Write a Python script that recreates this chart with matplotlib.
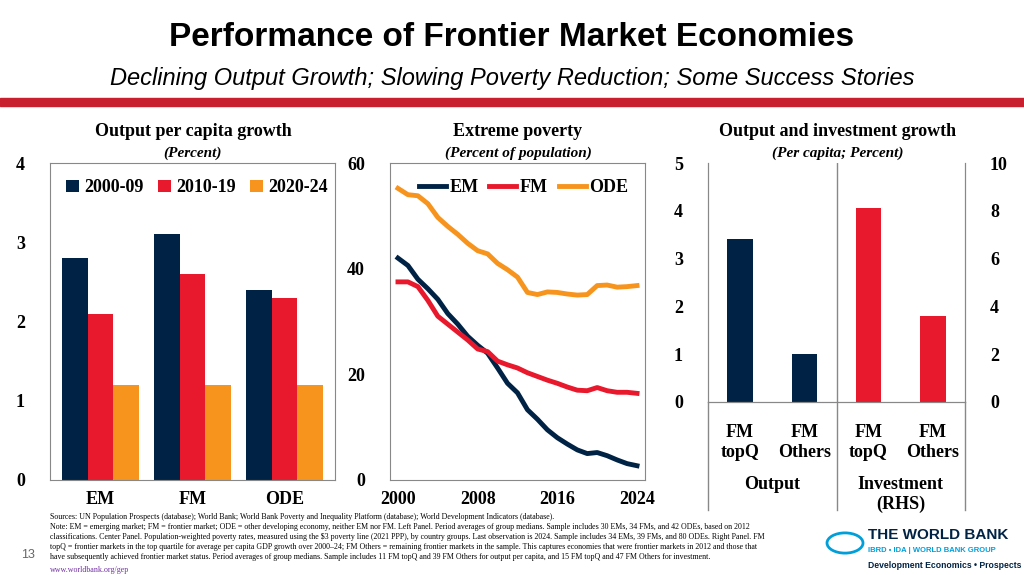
import numpy as np
import matplotlib.pyplot as plt

navy, red, orange = '#002345', '#e8192c', '#f7941d'

groups = ['EM', 'FM', 'ODE']
periods = ['2000-09', '2010-19', '2020-24']
growth = {'2000-09': [2.8, 3.1, 2.4], '2010-19': [2.1, 2.6, 2.3], '2020-24': [1.2, 1.2, 1.2]}

years = list(range(2000, 2025))
em = [42.0, 40.6, 38.0, 36.2, 34.2, 31.5, 29.5, 27.2, 25.5, 24.0, 21.2, 18.3, 16.5, 13.3, 11.5,
      9.5, 8.0, 6.8, 5.7, 5.0, 5.2, 4.6, 3.8, 3.1, 2.7]
fm = [37.5, 37.5, 36.6, 34.0, 31.0, 29.5, 28.0, 26.5, 24.8, 24.3, 22.5, 21.8, 21.2, 20.3, 19.6,
      18.9, 18.3, 17.6, 17.0, 16.9, 17.5, 16.9, 16.6, 16.6, 16.4]
ode = [55.2, 54.0, 53.8, 52.3, 49.7, 48.0, 46.5, 44.8, 43.4, 42.8, 41.0, 39.8, 38.4, 35.5, 35.1,
       35.6, 35.5, 35.2, 35.0, 35.1, 36.8, 36.9, 36.5, 36.6, 36.8]

output = [3.4, 1.0]
invest = [8.1, 3.6]

plt.rcParams['font.family'] = 'Liberation Serif'
fig = plt.figure(figsize=(10.24, 5.75), dpi=100)
W, H = 1024, 575
def box(x0, y0, x1, y1):
    return [x0 / W, 1 - y1 / H, (x1 - x0) / W, (y1 - y0) / H]

fig.text(0.5, 1 - 38 / H, 'Performance of Frontier Market Economies', ha='center', va='center',
         fontsize=24, fontweight='bold', family='Liberation Sans')
fig.text(0.5, 1 - 78 / H, 'Declining Output Growth; Slowing Poverty Reduction; Some Success Stories',
         ha='center', va='center', fontsize=17, style='italic', family='Liberation Sans')
fig.patches.append(plt.Rectangle((0, 1 - 106 / H), 1, 8 / H, transform=fig.transFigure, color='#c8202f'))

def title(x, t, s):
    fig.text(x / W, 1 - 131 / H, t, ha='center', va='center', fontsize=13, fontweight='bold')
    fig.text(x / W, 1 - 153 / H, s, ha='center', va='center', fontsize=11, fontweight='bold', style='italic')

# left
ax = fig.add_axes(box(50, 163, 335, 480))
title(193, 'Output per capita growth', '(Percent)')
x = np.arange(3)
for i, (p, c) in enumerate(zip(periods, [navy, red, orange])):
    ax.bar(x + (i - 1) * 0.28, growth[p], 0.28, color=c, label=p)
ax.set_ylim(0, 4)
ax.set_yticks(range(5))
ax.set_xticks(x, groups)
ax.set_xlim(-0.55, 2.55)
ax.legend(loc='upper left', ncol=3, frameon=False, prop={'weight': 'bold', 'size': 13},
          handlelength=0.7, handletextpad=0.3, columnspacing=0.8, bbox_to_anchor=(0.0, 1.0))

# center
ax2 = fig.add_axes(box(390, 163, 645, 480))
title(518, 'Extreme poverty', '(Percent of population)')
ax2.plot(years, em, color=navy, lw=3.5, label='EM')
ax2.plot(years, fm, color=red, lw=3.5, label='FM')
ax2.plot(years, ode, color=orange, lw=3.5, label='ODE')
ax2.set_ylim(0, 60)
ax2.set_yticks([0, 20, 40, 60])
ax2.set_xlim(1999.2, 2024.8)
ax2.set_xticks([2000, 2008, 2016, 2024])
ax2.legend(loc='upper right', ncol=3, frameon=False, prop={'weight': 'bold', 'size': 13},
           handlelength=1.5, handletextpad=0.2, columnspacing=0.6)

for a in (ax, ax2):
    a.tick_params(length=0, labelsize=13, pad=8)
    for t in a.get_xticklabels() + a.get_yticklabels():
        t.set_fontweight('bold')
    for s in a.spines.values():
        s.set_color('#888888')
ax.tick_params(axis='y', pad=18)
ax2.tick_params(axis='y', pad=18)

# right
ax3 = fig.add_axes(box(708, 163, 965, 402))
title(838, 'Output and investment growth', '(Per capita; Percent)')
ax3.bar([0, 1], output, 0.4, color=navy)
ax3.set_ylim(0, 5)
ax3.set_xlim(-0.5, 3.5)
ax4 = ax3.twinx()
ax4.bar([2, 3], invest, 0.4, color=red)
ax4.set_ylim(0, 10)
ax3.set_xticks([])
ax3.axvline(1.5, color='#888888', lw=1)
for a in (ax3, ax4):
    a.tick_params(length=0, labelsize=13, pad=18)
    for t in a.get_yticklabels():
        t.set_fontweight('bold')
    for s in a.spines.values():
        s.set_color('#888888')
    a.spines['top'].set_visible(False)
labs = ['FM\ntopQ', 'FM\nOthers', 'FM\ntopQ', 'FM\nOthers']
for xi, l in enumerate(labs):
    ax3.text(xi, -0.17, l, transform=ax3.get_xaxis_transform(), ha='center', va='center',
             fontsize=13, fontweight='bold', linespacing=1.2)
ax3.text(0.5, -0.31, 'Output', transform=ax3.get_xaxis_transform(), ha='center', va='top',
         fontsize=13, fontweight='bold')
ax3.text(2.5, -0.31, 'Investment\n(RHS)', transform=ax3.get_xaxis_transform(), ha='center', va='top',
         fontsize=13, fontweight='bold')
for xv in (-0.5, 1.5, 3.5):
    ax3.plot([xv, xv], [0, -0.45], transform=ax3.get_xaxis_transform(), color='#888888', lw=1, clip_on=False)

notes = ("Sources: UN Population Prospects (database); World Bank; World Bank Poverty and Inequality Platform (database); World Development Indicators (database).\n"
         "Note: EM = emerging market; FM = frontier market; ODE = other developing economy, neither EM nor FM. Left Panel. Period averages of group medians. Sample includes 30 EMs, 34 FMs, and 42 ODEs, based on 2012\n"
         "classifications. Center Panel. Population-weighted poverty rates, measured using the $3 poverty line (2021 PPP), by country groups. Last observation is 2024. Sample includes 34 EMs, 39 FMs, and 80 ODEs. Right Panel. FM\n"
         "topQ = frontier markets in the top quartile for average per capita GDP growth over 2000\u201324; FM Others = remaining frontier markets in the sample. This captures economies that were frontier markets in 2012 and those that\n"
         "have subsequently achieved frontier market status. Period averages of group medians. Sample includes 11 FM topQ and 39 FM Others for output per capita, and 15 FM topQ and 47 FM Others for investment.")
fig.text(50 / W, 1 - 513 / H, notes, ha='left', va='top', fontsize=5.7, linespacing=1.35)
fig.text(50 / W, 1 - 574 / H, 'www.worldbank.org/gep', ha='left', va='bottom', fontsize=5.8, color='#7030a0')
fig.text(28 / W, 1 - 555 / H, '13', ha='center', va='center', fontsize=9, color='#666666', family='Liberation Sans')
fig.text(868 / W, 1 - 535 / H, 'THE WORLD BANK', ha='left', va='center', fontsize=11, fontweight='bold',
         color='#002345', family='Liberation Sans')
fig.text(868 / W, 1 - 550 / H, 'IBRD \u2022 IDA | WORLD BANK GROUP', ha='left', va='center', fontsize=5.5,
         fontweight='bold', color='#009fda', family='Liberation Sans')
fig.text(868 / W, 1 - 566 / H, 'Development Economics \u2022 Prospects', ha='left', va='center', fontsize=6.2,
         fontweight='bold', color='#002345', family='Liberation Sans')
fig.patches.append(plt.Circle((845 / W, 1 - 543 / H), 18 / W, transform=fig.transFigure, fill=False,
                              ec='#009fda', lw=2))

fig.savefig('out.png', dpi=100)
